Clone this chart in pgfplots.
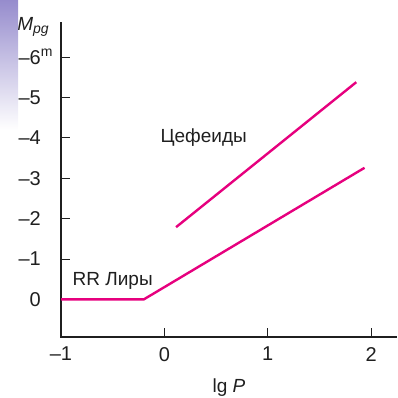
\documentclass[border=0pt]{standalone}
\usepackage{pgfplots}
\pgfplotsset{compat=1.18}
\usepackage{fontspec}
\setmainfont{Liberation Sans}
\definecolor{mag}{RGB}{230,0,126}
\definecolor{strip}{RGB}{150,140,205}
\begin{document}
\begin{tikzpicture}
\useasboundingbox (0pt,0pt) rectangle (397pt,398pt);
\begin{axis}[
  at={(61pt,61pt)}, anchor=south west,
  scale only axis, width=336pt, height=315pt,
  xmin=-1, xmax=2.25, ymin=-6.87, ymax=0.93,
  y dir=reverse,
  axis lines=none,
  xtick={-1,0,1,2},
  ytick={-6,-5,-4,-3,-2,-1,0},
  major tick length=0pt,
  clip=false,
]
\draw[black!88, line width=1.6pt] (axis cs:-1,-6.87) -- (axis cs:-1,0.93) -- (axis cs:2.25,0.93);
\pgfplotsinvokeforeach{-6,-5,-4,-3,-2,-1}{
  \draw[black!88, line width=1pt] (axis cs:-1,#1) -- ++(9pt,0pt);
}
\pgfplotsinvokeforeach{0,1,2}{
  \draw[black!88, line width=1pt] (axis cs:#1,0.93) -- ++(0pt,9pt);
}
\addplot[mag, line width=2.4pt] coordinates {(-1,0) (-0.2,0) (1.936,-3.26)};
\addplot[mag, line width=2.4pt] coordinates {(0.113,-1.79) (1.856,-5.38)};
\node[font=\fontsize{19}{21}\selectfont, text=black!88] at (axis cs:0.38,-4.0) {Цефеиды};
\node[font=\fontsize{19}{21}\selectfont, text=black!88] at (axis cs:-0.5,-0.46) {RR Лиры};
\node[font=\fontsize{20}{22}\selectfont, text=black!88, anchor=east, inner sep=0pt] at ([xshift=-20pt]axis cs:-1,-6) {–6\rlap{\raisebox{0.75ex}{\fontsize{14}{14}\selectfont m}}};
\node[font=\fontsize{20}{22}\selectfont, text=black!88, anchor=east, inner sep=0pt] at ([xshift=-20pt]axis cs:-1,-5) {–5};
\node[font=\fontsize{20}{22}\selectfont, text=black!88, anchor=east, inner sep=0pt] at ([xshift=-20pt]axis cs:-1,-4) {–4};
\node[font=\fontsize{20}{22}\selectfont, text=black!88, anchor=east, inner sep=0pt] at ([xshift=-20pt]axis cs:-1,-3) {–3};
\node[font=\fontsize{20}{22}\selectfont, text=black!88, anchor=east, inner sep=0pt] at ([xshift=-20pt]axis cs:-1,-2) {–2};
\node[font=\fontsize{20}{22}\selectfont, text=black!88, anchor=east, inner sep=0pt] at ([xshift=-20pt]axis cs:-1,-1) {–1};
\node[font=\fontsize{20}{22}\selectfont, text=black!88, anchor=east, inner sep=0pt] at ([xshift=-20pt]axis cs:-1,0) {0};
\node[font=\fontsize{20}{22}\selectfont, text=black!88, anchor=north, inner sep=0pt] at ([yshift=-10pt]axis cs:-1,0.93) {–1};
\node[font=\fontsize{20}{22}\selectfont, text=black!88, anchor=north, inner sep=0pt] at ([yshift=-10pt]axis cs:0,0.93) {0};
\node[font=\fontsize{20}{22}\selectfont, text=black!88, anchor=north, inner sep=0pt] at ([yshift=-10pt]axis cs:1,0.93) {1};
\node[font=\fontsize{20}{22}\selectfont, text=black!88, anchor=north, inner sep=0pt] at ([yshift=-10pt]axis cs:2,0.93) {2};
\end{axis}
\node[text=black!88] at (33pt,371pt) {\fontsize{19}{21}\selectfont\textit{M}\raisebox{-0.35ex}{\fontsize{14}{14}\selectfont\textit{pg}}};
\node[text=black!88] at (229pt,10pt) {\fontsize{19}{21}\selectfont lg \textit{P}};
\shade[top color=strip, bottom color=white] (0pt,398pt) rectangle (18pt,268pt);
\end{tikzpicture}
\end{document}
